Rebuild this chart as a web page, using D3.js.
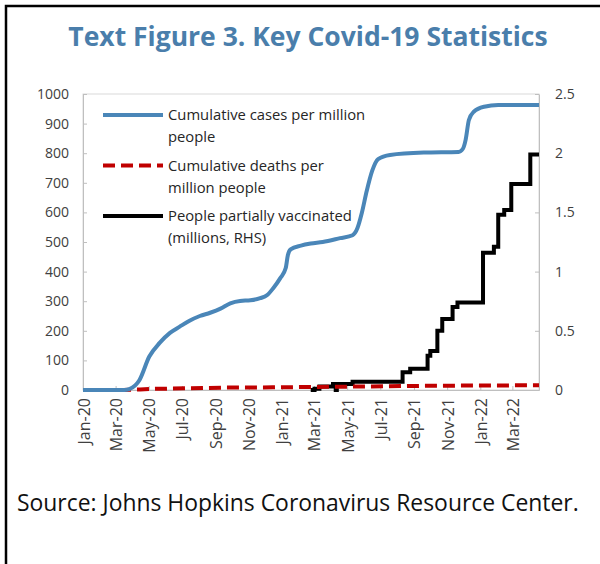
<!DOCTYPE html>
<html>
  <head>
    <meta charset="utf-8">
    <title>Key Covid-19 Statistics</title>
    <script type="text/javascript" src="https://d3js.org/d3.v7.min.js"></script>
    <style>
      body { margin: 0; background: #fff; }
      text { font-family: "Open Sans", "DejaVu Sans", sans-serif; }
    </style>
  </head>

  <body>
    <script>

    // cumulative cases per million people (left axis)
    var caseDates = ["2020-01-01","2020-03-17","2020-03-26","2020-04-14","2020-05-02","2020-05-21","2020-06-09",
                     "2020-06-27","2020-07-15","2020-08-03","2020-08-22","2020-09-10","2020-09-28","2020-10-16",
                     "2020-11-04","2020-11-22","2020-12-05","2020-12-16","2020-12-29","2021-01-08","2021-01-12",
                     "2021-01-17","2021-02-05","2021-02-23","2021-03-17","2021-04-18","2021-05-11","2021-05-20",
                     "2021-05-28","2021-06-06","2021-06-16","2021-06-27","2021-07-19","2021-09-19","2021-11-22",
                     "2021-11-30","2021-12-05","2021-12-11","2021-12-20","2022-01-08","2022-02-03","2022-04-19"];
    var caseValues = [0, 0, 3, 34, 113, 159, 193,
                      214, 234, 250, 261, 275, 293, 301,
                      303, 310, 321, 344, 378, 412, 456,
                      475, 488, 495, 500, 513, 523, 547,
                      598, 672, 740, 780, 794, 802, 804,
                      815, 845, 912, 940, 957, 963, 963];

    // cumulative deaths per million people (left axis)
    var deathDates = ["2020-01-01","2020-03-15","2020-04-15","2020-05-15","2020-07-15","2020-09-15","2020-12-15",
                      "2021-02-15","2021-06-15","2021-09-15","2021-12-15","2022-04-19"];
    var deathValues = [0, 0, 2, 4, 6, 8, 9, 10, 12, 14, 15, 16];

    // people partially vaccinated, millions (right axis)
    var vaxDates = ["2021-02-23","2021-03-02","2021-03-11","2021-04-05","2021-04-10","2021-04-12","2021-05-11",
                    "2021-08-11","2021-08-25","2021-09-26","2021-10-01","2021-10-14","2021-10-23","2021-11-11",
                    "2021-11-20","2022-01-06","2022-01-26","2022-02-03","2022-02-14","2022-02-27","2022-04-03",
                    "2022-04-19"];
    var vaxValues = [0, 0.01, 0.03, 0.05, 0.0, 0.05, 0.07,
                     0.15, 0.18, 0.29, 0.33, 0.5, 0.6, 0.7,
                     0.74, 1.16, 1.21, 1.48, 1.52, 1.74, 1.99,
                     1.99];

    var leftTicks = [0, 100, 200, 300, 400, 500, 600, 700, 800, 900, 1000];
    var rightTicks = [0, 0.5, 1, 1.5, 2, 2.5];

    var seriesNames = [["Cumulative cases per million", "people"],
                       ["Cumulative deaths per", "million people"],
                       ["People partially vaccinated", "(millions, RHS)"]];

    var parse = d3.timeParse("%Y-%m-%d");
    var width = 600, height = 564;
    var plotL = 83, plotR = 539, plotT = 94, plotB = 390;   // plot area in px

    var x = d3.scaleTime()
              .domain([parse("2020-01-01"), parse("2022-04-19")])
              .range([plotL, plotR]);
    var yL = d3.scaleLinear().domain([0, 1000]).range([plotB, plotT]);
    var yR = d3.scaleLinear().domain([0, 2.5]).range([plotB, plotT]);

    var svg = d3.select("body").append("svg")
                .attr("width", width)
                .attr("height", height);

    // frame (top and left only)
    svg.append("path")
       .attr("d", "M6,564V6H600")
       .attr("fill", "none")
       .attr("stroke", "#000")
       .attr("stroke-width", 2.5);

    svg.append("text")
       .attr("x", 308).attr("y", 46)
       .attr("text-anchor", "middle")
       .attr("font-size", 26.5)
       .attr("font-weight", 700)
       .attr("fill", "#4a7eab")
       .text("Text Figure 3. Key Covid-19 Statistics");

    // plot area box
    svg.append("rect")
       .attr("x", plotL).attr("y", plotT)
       .attr("width", plotR - plotL).attr("height", plotB - plotT)
       .attr("fill", "none")
       .attr("stroke", "#d9d9d9");

    function styleAxis(g) {
      g.select(".domain").attr("stroke", "#bfbfbf");
      g.selectAll(".tick line").attr("stroke", "#bfbfbf");
      g.selectAll(".tick text").attr("fill", "#404040").attr("font-size", 14);
    }

    svg.append("g")
       .attr("transform", "translate(" + plotL + ",0)")
       .call(d3.axisLeft(yL).tickValues(leftTicks).tickFormat(d3.format("d"))
                .tickSizeInner(-4).tickSizeOuter(0).tickPadding(14))
       .call(styleAxis);

    svg.append("g")
       .attr("transform", "translate(" + plotR + ",0)")
       .call(d3.axisRight(yR).tickValues(rightTicks).tickFormat(d3.format(""))
                .tickSizeInner(-4).tickSizeOuter(0).tickPadding(16))
       .call(styleAxis);

    var xAxis = svg.append("g")
       .attr("transform", "translate(0," + plotB + ")")
       .call(d3.axisBottom(x).ticks(d3.timeMonth.every(2)).tickFormat(d3.timeFormat("%b-%y"))
                .tickSizeInner(-4).tickSizeOuter(0).tickPadding(0))
       .call(styleAxis);
    xAxis.selectAll(".tick text")
       .attr("text-anchor", "end")
       .attr("font-size", 16)
       .attr("dy", null)
       .attr("transform", "translate(6,8) rotate(-90)");

    var caseData = caseDates.map(function(d, i) { return [parse(d), caseValues[i]]; });
    var deathData = deathDates.map(function(d, i) { return [parse(d), deathValues[i]]; });
    var vaxData = vaxDates.map(function(d, i) { return [parse(d), vaxValues[i]]; });

    var lineCases = d3.line().x(function(d) { return x(d[0]); }).y(function(d) { return yL(d[1]); })
                      .curve(d3.curveMonotoneX);
    var lineDeaths = d3.line().x(function(d) { return x(d[0]); }).y(function(d) { return yL(d[1]); });
    var lineVax = d3.line().x(function(d) { return x(d[0]); }).y(function(d) { return yR(d[1]); })
                    .curve(d3.curveStepAfter);

    svg.append("path").datum(vaxData)
       .attr("d", lineVax)
       .attr("fill", "none").attr("stroke", "#000").attr("stroke-width", 4);

    svg.append("path").datum(deathData)
       .attr("d", lineDeaths)
       .attr("fill", "none").attr("stroke", "#c00000").attr("stroke-width", 4)
       .attr("stroke-dasharray", "12,6");

    svg.append("path").datum(caseData)
       .attr("d", lineCases)
       .attr("fill", "none").attr("stroke", "#4a86b8").attr("stroke-width", 4);

    // legend
    var legColors = ["#4a86b8", "#c00000", "#000"];
    var legDash = [null, "12,6", null];
    var leg = svg.append("g").selectAll("g")
                 .data(seriesNames)
                 .enter().append("g")
                 .attr("transform", function(d, i) { return "translate(103," + (115 + i * 50.5) + ")"; });
    leg.append("line")
       .attr("x1", 0).attr("x2", 60)
       .attr("stroke", function(d, i) { return legColors[i]; })
       .attr("stroke-width", 4)
       .attr("stroke-dasharray", function(d, i) { return legDash[i]; });
    leg.selectAll("text")
       .data(function(d) { return d; })
       .enter().append("text")
       .attr("x", 65)
       .attr("y", function(d, j) { return 5 + j * 22; })
       .attr("font-size", 14.8)
       .attr("fill", "#262626")
       .text(function(d) { return d; });

    svg.append("text")
       .attr("x", 17).attr("y", 511)
       .attr("font-size", 22.9)
       .attr("fill", "#111")
       .text("Source: Johns Hopkins Coronavirus Resource Center.");

  </script>
  </body>
</html>
